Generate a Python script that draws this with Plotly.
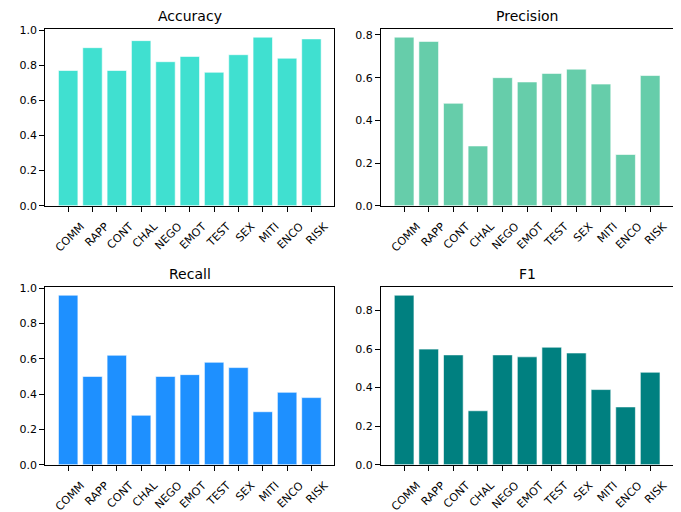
import plotly.graph_objects as go
from plotly.subplots import make_subplots

categories = ["COMM", "RAPP", "CONT", "CHAL", "NEGO", "EMOT", "TEST", "SEX", "MITI", "ENCO", "RISK"]
accuracy = [0.77, 0.90, 0.77, 0.94, 0.82, 0.85, 0.76, 0.86, 0.96, 0.84, 0.95]
precision = [0.79, 0.77, 0.48, 0.28, 0.60, 0.58, 0.62, 0.64, 0.57, 0.24, 0.61]
recall = [0.96, 0.50, 0.62, 0.28, 0.50, 0.51, 0.58, 0.55, 0.30, 0.41, 0.38]
f1 = [0.88, 0.60, 0.57, 0.28, 0.57, 0.56, 0.61, 0.58, 0.39, 0.30, 0.48]

titles = ["Accuracy", "Precision", "Recall", "F1"]
series = [accuracy, precision, recall, f1]
colors = ["#40E0D0", "#66CDAA", "#1E90FF", "#008080"]
yticks = [[0, 0.2, 0.4, 0.6, 0.8, 1.0], [0, 0.2, 0.4, 0.6, 0.8],
          [0, 0.2, 0.4, 0.6, 0.8, 1.0], [0, 0.2, 0.4, 0.6, 0.8]]

OFF = 8  # page body margin
W, H = 681 - OFF, 512 - OFF
# pixel boxes in page coords: (left, right, top, bottom)
boxes = [(45.3, 334.3, 28.7, 205.7), (381.0, 673.3, 28.7, 205.7),
         (45.3, 334.3, 286.7, 464.7), (381.0, 673.3, 286.7, 464.7)]

fig = make_subplots(rows=2, cols=2)
font = "DejaVu Sans"
for i, (vals, col, title, yt) in enumerate(zip(series, colors, titles, yticks)):
    r, c = i // 2 + 1, i % 2 + 1
    fig.add_trace(go.Bar(x=categories, y=vals, marker=dict(color=col, line=dict(color="rgba(255,255,255,0.6)", width=1)),
                         width=0.8, showlegend=False), row=r, col=c)
    L, R, T, B = [v - OFF for v in boxes[i]]
    xa = "xaxis" if i == 0 else f"xaxis{i+1}"
    ya = "yaxis" if i == 0 else f"yaxis{i+1}"
    ymax = max(vals) * 1.05
    fig.layout[xa].update(domain=[L / W, R / W], range=[-0.94, 10.94], tickangle=-45, automargin=False,
                          showline=True, mirror=True, linecolor="black", linewidth=1,
                          ticks="outside", ticklen=5, tickcolor="black", showgrid=False,
                          ticklabelshift=13, ticklabelstandoff=4,
                          tickfont=dict(family=font, size=11, color="black"))
    fig.layout[ya].update(domain=[1 - B / H, 1 - T / H], range=[0, ymax], tickvals=yt, automargin=False,
                          ticktext=[f"{v:.1f}" for v in yt],
                          showline=True, mirror=True, linecolor="black", linewidth=1,
                          ticks="outside", ticklen=5, tickcolor="black", showgrid=False, zeroline=False,
                          tickfont=dict(family=font, size=11, color="black"))
    fig.add_annotation(text=title, x=(L + R) / 2 / W, y=1 - (T - 13) / H, xref="paper", yref="paper",
                       showarrow=False, xanchor="center", yanchor="middle", borderpad=0,
                       font=dict(family=font, size=14, color="black"))

fig.update_layout(width=W, height=H, margin=dict(l=0, r=0, t=0, b=0),
                  plot_bgcolor="white", paper_bgcolor="white", bargap=0.2)
fig.write_html("out.html")
